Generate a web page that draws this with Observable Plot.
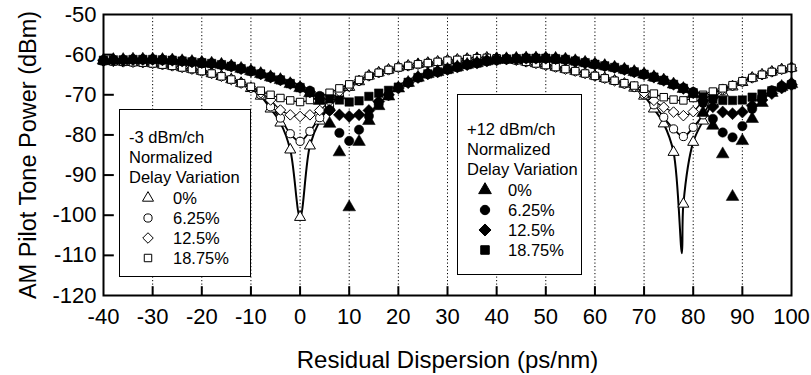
<!DOCTYPE html>
<html><head><meta charset="utf-8">
<script src="https://cdn.jsdelivr.net/npm/d3@7"></script>
<script src="https://cdn.jsdelivr.net/npm/@observablehq/plot@0.6"></script>
<style>
body{margin:0;background:#fff;font-family:"Liberation Sans",Arial,sans-serif;}
#wrap{position:relative;width:811px;height:375px;overflow:hidden;}
.legend{position:absolute;border:1.5px solid #000;background:#fff;font-size:16.5px;color:#000;box-sizing:border-box;}
.legend .row{height:20.2px;line-height:20.2px;white-space:nowrap;position:relative;}
.legend .sym{position:absolute;top:2px;}
.legend .lab{position:absolute;}
</style></head>
<body>
<div id="wrap"></div>
<script>
// Residual dispersion (ps/nm), every 2 ps/nm
const dispersion = [-40,-38,-36,-34,-32,-30,-28,-26,-24,-22,-20,-18,-16,-14,-12,-10,-8,-6,-4,-2,0,2,4,6,8,10,12,14,16,18,20,22,24,26,28,30,32,34,36,38,40,42,44,46,48,50,52,54,56,58,60,62,64,66,68,70,72,74,76,78,80,82,84,86,88,90,92,94,96,98,100];

// -3 dBm/ch (open markers)
const lowTri = [-61.6,-61.7,-61.8,-61.9,-62.0,-62.2,-62.5,-62.8,-63.2,-63.6,-64.1,-64.7,-65.4,-66.2,-67.1,-68.4,-70.3,-73.5,-77.0,-83.7,-100.5,-82.7,-76.5,-73.0,-70.2,-68.1,-66.7,-65.3,-64.5,-63.8,-63.2,-62.8,-62.4,-62.1,-61.8,-61.5,-61.3,-61.1,-60.9,-60.8,-60.9,-61.1,-61.4,-61.8,-62.2,-62.6,-63.1,-63.6,-64.1,-64.7,-65.3,-65.9,-66.5,-67.3,-68.3,-70.3,-73.5,-77.2,-84.3,-97.2,-81.8,-76.5,-72.0,-69.5,-68.0,-66.9,-65.8,-65.0,-64.3,-63.7,-63.3];
const lowCir = [-61.6,-61.7,-61.8,-61.9,-62.0,-62.2,-62.5,-62.8,-63.2,-63.6,-64.1,-64.7,-65.4,-66.2,-67.1,-68.3,-70.0,-73.0,-75.8,-79.7,-81.6,-79.1,-75.7,-72.8,-70.0,-68.0,-66.6,-65.3,-64.5,-63.8,-63.2,-62.8,-62.4,-62.1,-61.8,-61.5,-61.3,-61.1,-60.9,-60.8,-60.9,-61.1,-61.4,-61.8,-62.2,-62.6,-63.1,-63.6,-64.1,-64.7,-65.3,-65.9,-66.5,-67.3,-68.2,-70.0,-72.5,-75.6,-78.5,-80.4,-78.1,-75.0,-71.0,-69.0,-67.8,-66.8,-65.8,-65.0,-64.3,-63.7,-63.3];
const lowDia = [-61.6,-61.7,-61.8,-61.9,-62.0,-62.2,-62.5,-62.8,-63.2,-63.6,-64.1,-64.7,-65.4,-66.2,-67.1,-68.2,-69.5,-71.3,-73.8,-75.0,-75.4,-75.0,-73.9,-71.5,-69.2,-67.8,-66.5,-65.3,-64.5,-63.8,-63.2,-62.8,-62.4,-62.1,-61.8,-61.5,-61.3,-61.1,-60.9,-60.8,-60.9,-61.1,-61.4,-61.8,-62.2,-62.6,-63.1,-63.6,-64.1,-64.7,-65.3,-65.9,-66.5,-67.2,-68.0,-69.5,-71.4,-73.1,-74.3,-75.2,-74.2,-71.5,-69.7,-68.6,-67.7,-66.7,-65.8,-65.0,-64.3,-63.7,-63.3];
const lowSq  = [-61.6,-61.7,-61.8,-61.9,-62.0,-62.2,-62.5,-62.8,-63.2,-63.6,-64.1,-64.7,-65.4,-66.2,-67.1,-68.0,-69.0,-70.0,-70.8,-71.4,-71.8,-71.3,-70.5,-69.5,-68.4,-67.4,-66.3,-65.3,-64.5,-63.8,-63.2,-62.8,-62.4,-62.1,-61.8,-61.5,-61.3,-61.1,-60.9,-60.8,-60.9,-61.1,-61.4,-61.8,-62.2,-62.6,-63.1,-63.6,-64.1,-64.7,-65.3,-65.9,-66.5,-67.1,-67.7,-68.5,-69.7,-70.6,-71.2,-71.4,-70.8,-70.0,-69.2,-68.4,-67.6,-66.6,-65.8,-65.0,-64.3,-63.7,-63.3];
// deepest point of the 0% fitted curve near the second null
const lowTriSpikeX = [77.7];
const lowTriSpikeY = [-109.5];

// +12 dBm/ch (filled markers)
const highTri = [-61.4,-61.3,-61.3,-61.2,-61.2,-61.2,-61.3,-61.4,-61.6,-61.8,-62.0,-62.2,-62.5,-62.9,-63.5,-64.1,-64.8,-65.6,-66.3,-67.3,-68.3,-69.6,-71.5,-77.2,-84.3,-98.0,-81.7,-76.5,-72.8,-70.4,-68.4,-67.0,-65.7,-64.8,-64.3,-63.7,-63.1,-62.5,-62.1,-61.6,-61.3,-61.1,-61.0,-60.9,-60.9,-60.9,-61.0,-61.2,-61.6,-62.0,-62.4,-62.8,-63.2,-63.7,-64.3,-64.9,-65.6,-66.4,-67.4,-68.5,-69.8,-74.5,-77.7,-84.8,-95.4,-81.5,-76.0,-72.0,-69.5,-68.0,-67.3];
const highCir = [-61.4,-61.3,-61.3,-61.2,-61.2,-61.2,-61.3,-61.4,-61.6,-61.8,-62.0,-62.2,-62.5,-62.9,-63.5,-64.1,-64.8,-65.6,-66.3,-67.2,-68.1,-69.0,-70.3,-73.8,-79.5,-81.5,-78.7,-75.3,-72.3,-70.2,-68.2,-66.9,-65.7,-64.8,-64.3,-63.7,-63.1,-62.5,-62.1,-61.6,-61.3,-61.1,-61.0,-60.9,-60.9,-60.9,-61.0,-61.2,-61.6,-62.0,-62.4,-62.8,-63.2,-63.7,-64.3,-64.9,-65.6,-66.4,-67.4,-68.3,-69.3,-72.0,-76.0,-79.4,-80.6,-77.8,-73.5,-70.6,-68.9,-67.8,-67.2];
const highDia = [-61.4,-61.3,-61.3,-61.2,-61.2,-61.2,-61.3,-61.4,-61.6,-61.8,-62.0,-62.2,-62.5,-62.9,-63.5,-64.1,-64.8,-65.6,-66.3,-67.2,-68.2,-69.3,-71.0,-73.9,-75.0,-75.4,-75.0,-73.9,-71.7,-70.0,-68.3,-67.0,-65.7,-64.8,-64.3,-63.7,-63.1,-62.5,-62.1,-61.6,-61.3,-61.1,-61.0,-60.9,-60.9,-60.9,-61.0,-61.2,-61.6,-62.0,-62.4,-62.8,-63.2,-63.7,-64.3,-64.9,-65.6,-66.4,-67.4,-68.4,-69.5,-71.5,-73.0,-74.3,-74.7,-74.3,-72.7,-71.3,-69.7,-68.3,-67.5];
const highSq  = [-61.4,-61.3,-61.3,-61.2,-61.2,-61.2,-61.3,-61.4,-61.6,-61.8,-62.0,-62.2,-62.5,-62.9,-63.5,-64.1,-64.8,-65.6,-66.3,-67.2,-68.2,-69.3,-70.6,-71.0,-71.3,-71.8,-71.5,-70.4,-69.6,-68.9,-68.1,-66.9,-65.7,-64.8,-64.3,-63.7,-63.1,-62.5,-62.1,-61.6,-61.3,-61.1,-61.0,-60.9,-60.9,-60.9,-61.0,-61.2,-61.6,-62.0,-62.4,-62.8,-63.2,-63.7,-64.3,-64.9,-65.6,-66.4,-67.4,-68.4,-69.5,-70.5,-71.0,-71.4,-71.4,-71.3,-70.6,-69.8,-69.0,-68.2,-67.5];

const xTicks = [-40,-30,-20,-10,0,10,20,30,40,50,60,70,80,90,100];
const yTicks = [-120,-110,-100,-90,-80,-70,-60,-50];
const xInner = [-30,-20,-10,0,10,20,30,40,50,60,70,80,90];
const yInner = [-110,-100,-90,-80,-70,-60];

const xLabel = "Residual Dispersion (ps/nm)";
const yLabel = "AM Pilot Tone Power (dBm)";
const legendLow = {title: ["-3 dBm/ch", "Normalized", "Delay Variation"], items: ["0%", "6.25%", "12.5%", "18.75%"]};
const legendHigh = {title: ["+12 dBm/ch", "Normalized", "Delay Variation"], items: ["0%", "6.25%", "12.5%", "18.75%"]};

// custom diamond symbol (rotated square)
const diamondSym = {draw(ctx, size) { const r = Math.sqrt(size / 2); ctx.moveTo(0, -r); ctx.lineTo(r, 0); ctx.lineTo(0, r); ctx.lineTo(-r, 0); ctx.closePath(); }};
const symbols = [d3.symbolTriangle, d3.symbolCircle, diamondSym, d3.symbolSquare];
const radii = [4.1, 4.1, 4.2, 4.2];

const toPts = ys => dispersion.map((x, i) => ({x, y: ys[i]}));
const lowSeries = [lowTri, lowCir, lowDia, lowSq];
const highSeries = [highTri, highCir, highDia, highSq];

const triLine = toPts(lowTri).concat(lowTriSpikeX.map((x, i) => ({x, y: lowTriSpikeY[i]}))).sort((a, b) => a.x - b.x);
const fmt = d => String(d);

const marks = [
  Plot.gridX(xInner, {stroke: "#000", strokeOpacity: 1, strokeWidth: 1, strokeDasharray: "1.2,2.3"}),
  Plot.ruleX(xInner, {y1: -120, y2: -117.8, stroke: "#000", strokeWidth: 2}),
  Plot.ruleY(yInner, {x1: -40, x2: -37.8, stroke: "#000", strokeWidth: 2}),
  Plot.axisX({ticks: xTicks, tickSize: 0, tickPadding: 13, fontSize: 22, label: null, tickFormat: fmt}),
  Plot.axisY({ticks: yTicks, tickSize: 0, tickPadding: 7, fontSize: 22, label: null, tickFormat: fmt}),
  Plot.text([xLabel], {frameAnchor: "bottom", dy: 72, fontSize: 24, textAnchor: "middle", text: d => d}),
  Plot.text([yLabel], {frameAnchor: "left", dx: -75, rotate: -90, fontSize: 23.5, textAnchor: "middle", text: d => d}),
  Plot.line(triLine, {x: "x", y: "y", curve: "catmull-rom", stroke: "#000", strokeWidth: 2}),
  Plot.line(toPts(lowCir), {x: "x", y: "y", curve: "catmull-rom", stroke: "#000", strokeWidth: 1.8}),
  Plot.line(toPts(lowDia), {x: "x", y: "y", curve: "catmull-rom", stroke: "#000", strokeWidth: 1.3}),
  Plot.line(toPts(lowSq), {x: "x", y: "y", curve: "catmull-rom", stroke: "#000", strokeWidth: 1.2}),
];
lowSeries.forEach((s, k) => marks.push(Plot.dot(toPts(s), {x: "x", y: "y", symbol: () => symbols[k], r: radii[k], fill: "#fff", stroke: "#000", strokeWidth: 1})));
highSeries.forEach((s, k) => marks.push(Plot.dot(toPts(s), {x: "x", y: "y", symbol: () => symbols[k], r: radii[k] + 0.6, fill: "#000", stroke: "#000", strokeWidth: 0.5})));
marks.push(Plot.frame({stroke: "#000", strokeWidth: 2}));

const chart = Plot.plot({
  width: 811, height: 375,
  marginLeft: 103, marginRight: 20, marginTop: 14, marginBottom: 80,
  x: {domain: [-40, 100]},
  y: {domain: [-120, -50]},
  style: {fontFamily: "'Liberation Sans', Arial, sans-serif", background: "#fff", color: "#000", overflow: "visible"},
  marks
});
const wrap = document.getElementById("wrap");
wrap.appendChild(chart);

function symSvg(k, filled) {
  const r = radii[k] + (filled ? 0.6 : 0);
  const p = d3.symbol(symbols[k], Math.PI * r * r)();
  return `<svg width="16" height="16" viewBox="-8 -8 16 16"><path d="${p}" fill="${filled ? "#000" : "#fff"}" stroke="#000" stroke-width="1"/></svg>`;
}
function legend(def, box, filled) {
  const d = document.createElement("div");
  d.className = "legend";
  Object.assign(d.style, {left: box.left + "px", top: box.top + "px", width: box.width + "px", height: box.height + "px", paddingTop: box.pad + "px"});
  let html = "";
  def.title.forEach(t => html += `<div class="row"><span class="lab" style="left:${box.textX}px">${t}</span></div>`);
  def.items.forEach((t, k) => html += `<div class="row"><span class="sym" style="left:${box.symX - 8}px">${symSvg(k, filled)}</span><span class="lab" style="left:${box.labX}px">${t}</span></div>`);
  d.innerHTML = html;
  wrap.appendChild(d);
}
legend(legendLow, {left: 119, top: 109, width: 132, height: 168, pad: 17, textX: 9, symX: 28, labX: 53}, false);
legend(legendHigh, {left: 457, top: 94, width: 125, height: 181, pad: 24, textX: 9, symX: 27, labX: 50}, true);
</script>
</body></html>
